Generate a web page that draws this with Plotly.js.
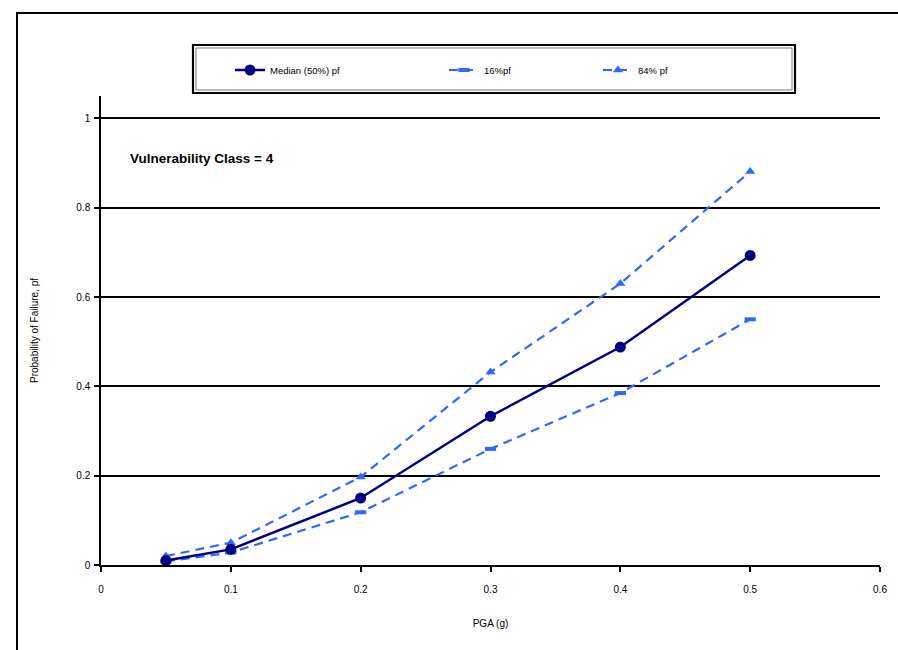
<!DOCTYPE html>
<html>
<head>
<meta charset="utf-8">
<script src="https://cdn.plot.ly/plotly-3.0.1.min.js"></script>
<style>html,body{margin:0;padding:0;background:#fff}#chart{width:898px;height:650px}</style>
</head>
<body>
<div id="chart"></div>
<script>
const pga = [0.05, 0.1, 0.2, 0.3, 0.4, 0.5];
const median50 = [0.01, 0.035, 0.15, 0.333, 0.488, 0.693];
const p16 = [0.008, 0.028, 0.118, 0.26, 0.385, 0.55];
const p84 = [0.02, 0.05, 0.197, 0.432, 0.63, 0.881];
const seriesNames = ['Median (50%) pf', '16%pf', '84% pf'];
const xTicks = [0, 0.1, 0.2, 0.3, 0.4, 0.5, 0.6];
const xTickText = ['0', '0.1', '0.2', '0.3', '0.4', '0.5', '0.6'];
const yTicks = [0, 0.2, 0.4, 0.6, 0.8, 1];
const yTickText = ['0', '0.2', '0.4', '0.6', '0.8', '1'];

const font = 'Liberation Sans, Arial, sans-serif';
const traces = [
  {x: pga, y: p16, name: seriesNames[1], mode: 'lines+markers', legend: 'legend2',
   line: {color: '#3366FF', width: 2.2, dash: '9px,6px'},
   marker: {symbol: 'line-ew', size: 8, color: '#3366FF', line: {color: '#3366FF', width: 4}}},
  {x: pga, y: p84, name: seriesNames[2], mode: 'lines+markers', legend: 'legend3',
   line: {color: '#3366FF', width: 2.2, dash: '9px,6px'},
   marker: {symbol: 'triangle-up', size: 9, color: '#3366FF'}},
  {x: pga, y: median50, name: seriesNames[0], mode: 'lines+markers', legend: 'legend',
   line: {color: '#000080', width: 2.5},
   marker: {symbol: 'circle', size: 11, color: '#000080'}}
];

const P = v => (v - 101) / 779;      // pixel x -> paper
const Q = v => (565 - v) / 469;      // pixel y -> paper
const legCommon = {orientation: 'h', yanchor: 'middle', y: Q(70), xanchor: 'left',
  bgcolor: 'rgba(0,0,0,0)', borderwidth: 0, font: {family: font, size: 9.5, color: '#000'}};

const layout = {
  width: 898, height: 650,
  margin: {l: 101, r: 18, t: 96, b: 85},
  paper_bgcolor: '#fff', plot_bgcolor: '#fff',
  showlegend: true,
  legend: Object.assign({}, legCommon, {x: P(230)}),
  legend2: Object.assign({}, legCommon, {x: P(444)}),
  legend3: Object.assign({}, legCommon, {x: P(598)}),
  xaxis: {
    range: [0, 0.6], tickvals: xTicks, ticktext: xTickText,
    showgrid: false, zeroline: false, showline: true, linecolor: '#000', linewidth: 1.5,
    ticks: 'outside', ticklen: 5, tickwidth: 1.5, tickcolor: '#000', ticklabelstandoff: 9,
    tickfont: {family: font, size: 10, color: '#000'},
    title: {text: 'PGA (g)', font: {family: font, size: 10, color: '#000'}, standoff: 26}
  },
  yaxis: {
    range: [0, 1.05], tickvals: yTicks, ticktext: yTickText,
    showgrid: true, gridcolor: '#000', gridwidth: 1.5, zeroline: false,
    showline: true, linecolor: '#000', linewidth: 1.5,
    ticks: 'outside', ticklen: 5, tickwidth: 1.5, tickcolor: '#000', ticklabelstandoff: 2,
    tickfont: {family: font, size: 10, color: '#000'},
    title: {text: 'Probability of Failure, pf', font: {family: font, size: 10, color: '#000'}, standoff: 36}
  },
  annotations: [{
    xref: 'paper', yref: 'paper', x: P(128), y: Q(158), xanchor: 'left', yanchor: 'middle',
    text: '<b>Vulnerability Class = 4</b>', showarrow: false,
    font: {family: font, size: 13.5, color: '#000'}
  }],
  shapes: [
    {type: 'rect', xref: 'paper', yref: 'paper', x0: P(17), x1: 1.2, y0: -0.3, y1: Q(13),
     line: {color: '#000', width: 2}, layer: 'below'},
    {type: 'rect', xref: 'paper', yref: 'paper', x0: P(193), x1: P(795), y0: Q(93), y1: Q(45),
     line: {color: '#000', width: 2.2}},
    {type: 'rect', xref: 'paper', yref: 'paper', x0: P(196), x1: P(792), y0: Q(90), y1: Q(48),
     line: {color: '#555', width: 0.8}}
  ]
};

Plotly.newPlot('chart', traces, layout, {displayModeBar: false});
</script>
</body>
</html>
